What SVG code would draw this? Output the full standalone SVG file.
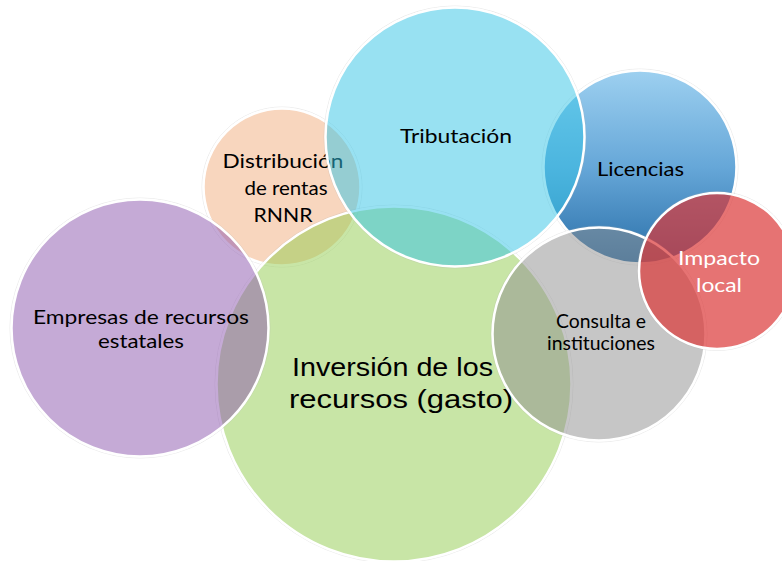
<svg xmlns="http://www.w3.org/2000/svg" width="782" height="561" viewBox="0 0 782 561">
  <defs>
    <linearGradient id="blueGrad" x1="0" y1="0" x2="0" y2="1">
      <stop offset="0" stop-color="#9dd0f0"/>
      <stop offset="0.5" stop-color="#66a7d8"/>
      <stop offset="1" stop-color="#2a6fa8"/>
    </linearGradient>
    <style>
      .ring { stroke: #ffffff; stroke-width: 2.5; }
      .halo { fill: none; stroke: #b0b0b0; stroke-opacity: 0.25; stroke-width: 1; }
      .lbl { font-family: Lato, "Open Sans", sans-serif; font-size: 20px; fill: #000000; text-anchor: middle; }
      .big { font-family: "Liberation Sans", Arial, sans-serif; font-size: 25px; fill: #000000; text-anchor: middle; }
      .peach { fill: rgb(241,173,125); fill-opacity: 0.5; }
      .green { fill: rgb(145,203,77); fill-opacity: 0.5; }
      .purple { fill: rgb(139,85,173); fill-opacity: 0.5; }
      .cyan { fill: rgb(49,195,229); fill-opacity: 0.5; }
      .gray { fill: rgb(141,141,141); fill-opacity: 0.5; }
      .red { fill: rgb(219,55,55); fill-opacity: 0.7; }
      .white { fill: #ffffff; }
    </style>
  </defs>
  <rect width="782" height="561" fill="#ffffff"/>

  <g id="licencias">
    <circle class="halo" cx="640" cy="167" r="98"/>
    <circle class="ring" cx="640" cy="167" r="96.5" fill="url(#blueGrad)"/>
    <text class="lbl" x="640.5" y="176" textLength="87" lengthAdjust="spacingAndGlyphs">Licencias</text>
  </g>

  <g id="distribucion">
    <circle class="halo" cx="282" cy="187" r="80"/>
    <circle class="ring peach" cx="282" cy="187" r="78.5"/>
    <text class="lbl" x="283" y="168" font-size="21" textLength="121" lengthAdjust="spacingAndGlyphs">Distribución</text>
    <text class="lbl" x="286" y="195" font-size="21" textLength="83" lengthAdjust="spacingAndGlyphs">de rentas</text>
    <text class="lbl" x="283" y="222" font-size="21" textLength="59" lengthAdjust="spacingAndGlyphs">RNNR</text>
  </g>

  <g id="inversion">
    <circle class="halo" cx="394" cy="384" r="179"/>
    <circle class="ring green" cx="394" cy="384" r="177.5"/>
    <text class="big" x="392.5" y="376" textLength="201" lengthAdjust="spacingAndGlyphs">Inversión de los</text>
    <text class="big" x="401" y="408" textLength="224" lengthAdjust="spacingAndGlyphs">recursos (gasto)</text>
  </g>

  <g id="empresas">
    <circle class="halo" cx="140" cy="328" r="130"/>
    <circle class="ring purple" cx="140" cy="328" r="128.5"/>
    <text class="lbl" x="141" y="324" textLength="216" lengthAdjust="spacingAndGlyphs">Empresas de recursos</text>
    <text class="lbl" x="141" y="348" textLength="86" lengthAdjust="spacingAndGlyphs">estatales</text>
  </g>

  <g id="tributacion">
    <circle class="halo" cx="455" cy="137" r="131"/>
    <circle class="ring cyan" cx="455" cy="137" r="129.5"/>
    <text class="lbl" x="456" y="143" textLength="112" lengthAdjust="spacingAndGlyphs">Tributación</text>
  </g>

  <g id="consulta">
    <circle class="halo" cx="599" cy="334" r="108"/>
    <circle class="ring gray" cx="599" cy="334" r="106.5"/>
    <text class="lbl" x="601" y="328" font-size="17" textLength="90" lengthAdjust="spacingAndGlyphs">Consulta e</text>
    <text class="lbl" x="601" y="350" font-size="17" textLength="108" lengthAdjust="spacingAndGlyphs">instituciones</text>
  </g>

  <g id="impacto">
    <circle class="halo" cx="717" cy="271" r="79.5"/>
    <circle class="ring red" cx="717" cy="271" r="78"/>
    <text class="lbl white" x="719" y="265" font-size="21" textLength="82" lengthAdjust="spacingAndGlyphs">Impacto</text>
    <text class="lbl white" x="719" y="292" font-size="21" textLength="46" lengthAdjust="spacingAndGlyphs">local</text>
  </g>

  <g id="connectors"/>
</svg>
